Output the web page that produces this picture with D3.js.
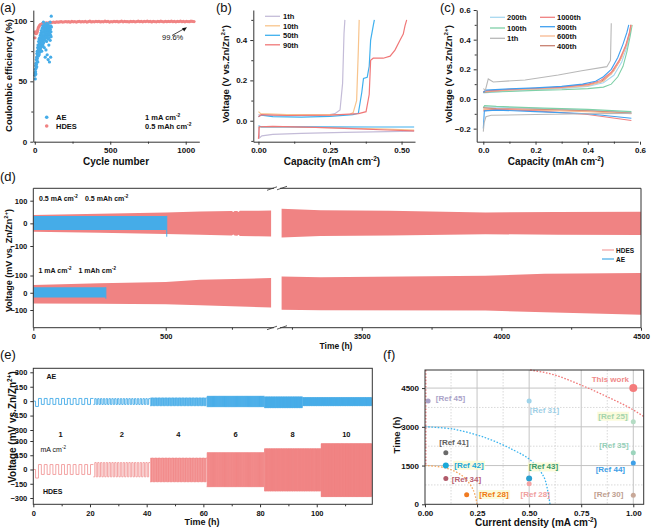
<!DOCTYPE html>
<html><head><meta charset="utf-8">
<script src="https://cdn.jsdelivr.net/npm/d3@7"></script>
<style>body{margin:0;background:#fff}</style>
</head><body><svg id="c" width="651" height="529"></svg>
<script>
// ---------------- DATA ----------------
// (a) Coulombic efficiency
const aeCycles = d3.range(1, 111);
const aeCE = [55,57,52,60,58,63,56,65,61,68, 64,70,62,73,67,75,69,72,78,66,
  80,74,77,71,83,76,79,85,72,81, 77,86,74,82,79,88,76,84,80,90,
  78,85,92,81,87,75,89,83,94,79, 88,84,96,80,91,86,99,82,93,87,
  85,95,78,90,88,97,84,92,70,89, 94,86,91,76,96,88,93,83,98,87,
  90,72,95,89,92,85,97,68,91,94, 88,93,80,96,86,92,66,90,95,89,
  99,84,93,88,70,96,91,87,104,95];
const hdesEarlyCycles = [1,3,5,8,11,14,17,20,24,28,33,38,44,50,57,65,75,85,95,105];
const hdesEarlyCE = [86,91,90,89.5,89.8,90.5,91.5,93,94.5,95.5,96.5,97,97.5,97.8,98,98.2,98.5,98.3,98.7,98.8];
const hdesPlateauStart = 115, hdesPlateauStep = 10;
const hdesPlateauCE = [98.9,99.1,98.8,99.3,99.0,99.2,99.4,99.1,99.3,99.5,
  99.2,99.4,99.0,99.6,99.3,99.5,99.1,99.4,99.7,99.2,
  99.5,99.3,99.6,99.1,99.4,99.8,99.2,99.5,99.3,99.6,
  99.4,99.7,99.2,99.5,99.3,99.8,99.4,99.6,99.1,99.5,
  99.3,99.7,99.4,99.6,99.2,99.5,99.8,99.3,99.6,99.4,
  99.5,99.2,99.7,99.4,99.6,99.3,99.5,99.8,99.4,99.6,
  99.3,99.7,99.5,99.9,99.4,99.6,99.2,99.7,99.5,99.3,
  99.6,99.4,99.8,99.5,99.3,99.7,99.4,99.6,99.5,99.8,
  99.4,99.6,99.3,99.7,99.5,99.8,99.4,99.6,99.3,99.7,
  99.5,99.4,99.8,99.6,99.5];

// (b) AE voltage profiles [capacity, V]
const bLabels = ['1th','10th','50th','90th'];
const bDis = [
  [[0,-0.03],[0.004,-0.085],[0.012,-0.075],[0.05,-0.068],[0.15,-0.063],[0.3,-0.058],[0.45,-0.054],[0.544,-0.052]],
  [[0,-0.035],[0.01,-0.03],[0.1,-0.03],[0.3,-0.036],[0.45,-0.042],[0.544,-0.047]],
  [[0,-0.025],[0.01,-0.03],[0.2,-0.03],[0.4,-0.031],[0.544,-0.031]],
  [[0,-0.09],[0.003,-0.03],[0.05,-0.028],[0.2,-0.033],[0.35,-0.04],[0.45,-0.046],[0.544,-0.05]]];
const bChg = [
  [[0,0.03],[0.01,0.026],[0.1,0.026],[0.2,0.027],[0.25,0.03],[0.267,0.035],[0.285,0.053],[0.294,0.185],[0.299,0.434],[0.302,0.5]],
  [[0,0.045],[0.008,0.035],[0.1,0.03],[0.25,0.03],[0.32,0.032],[0.331,0.04],[0.343,0.10],[0.349,0.35],[0.352,0.5]],
  [[0,0.02],[0.01,0.028],[0.05,0.02],[0.15,0.018],[0.25,0.022],[0.33,0.03],[0.349,0.037],[0.361,0.14],[0.367,0.21],[0.38,0.215],[0.387,0.27],[0.392,0.40],[0.401,0.47],[0.405,0.5]],
  [[0,0.02],[0.01,0.03],[0.1,0.026],[0.25,0.028],[0.35,0.035],[0.376,0.045],[0.387,0.13],[0.392,0.30],[0.401,0.31],[0.436,0.31],[0.46,0.32],[0.477,0.35],[0.495,0.40],[0.506,0.43],[0.512,0.47],[0.518,0.5]]];

// (c) HDES voltage profiles
const cLabels = ['200th','100th','1th','1000th','800th','600th','400th'];
const cChg = [
  [[0,0.04],[0.1,0.055],[0.2,0.062],[0.3,0.07],[0.4,0.085],[0.46,0.11],[0.5,0.16],[0.53,0.25],[0.55,0.35],[0.562,0.45],[0.567,0.5]],
  [[0,0.045],[0.1,0.05],[0.2,0.058],[0.3,0.062],[0.4,0.07],[0.46,0.08],[0.49,0.1],[0.515,0.15],[0.535,0.22],[0.55,0.32],[0.562,0.42],[0.57,0.5]],
  [[0,0.07],[0.008,0.06],[0.019,0.135],[0.038,0.115],[0.16,0.128],[0.287,0.162],[0.377,0.19],[0.473,0.218],[0.487,0.26],[0.49,0.51]],
  [[0,0.05],[0.01,0.055],[0.1,0.065],[0.2,0.072],[0.3,0.08],[0.4,0.1],[0.45,0.125],[0.49,0.18],[0.52,0.26],[0.545,0.36],[0.56,0.45],[0.565,0.5]],
  [[0,0.045],[0.01,0.06],[0.1,0.068],[0.2,0.075],[0.3,0.085],[0.38,0.1],[0.43,0.12],[0.46,0.15],[0.49,0.2],[0.515,0.28],[0.535,0.37],[0.55,0.45],[0.557,0.5]],
  [[0,0.05],[0.1,0.06],[0.2,0.068],[0.3,0.075],[0.4,0.09],[0.46,0.12],[0.5,0.19],[0.53,0.28],[0.55,0.38],[0.563,0.47],[0.567,0.5]],
  [[0,0.045],[0.1,0.062],[0.2,0.07],[0.3,0.078],[0.4,0.095],[0.45,0.115],[0.49,0.17],[0.52,0.25],[0.545,0.35],[0.56,0.44],[0.565,0.5]]];
const cDis = [
  [[0,-0.055],[0.05,-0.055],[0.2,-0.063],[0.4,-0.075],[0.567,-0.09]],
  [[0,-0.06],[0.005,-0.045],[0.05,-0.05],[0.2,-0.06],[0.4,-0.07],[0.567,-0.085]],
  [[0,-0.22],[0.003,-0.16],[0.01,-0.12],[0.03,-0.11],[0.2,-0.105],[0.4,-0.1],[0.567,-0.097]],
  [[0,-0.08],[0.05,-0.07],[0.2,-0.08],[0.4,-0.105],[0.567,-0.145]],
  [[0,-0.2],[0.004,-0.08],[0.05,-0.075],[0.2,-0.085],[0.4,-0.1],[0.567,-0.13]],
  [[0,-0.07],[0.05,-0.07],[0.2,-0.075],[0.4,-0.085],[0.567,-0.1]],
  [[0,-0.06],[0.05,-0.065],[0.2,-0.07],[0.4,-0.08],[0.567,-0.095]]];

// (d) long-term cycling envelopes (time h, mV)
const dTopHdesT  = [0,250,500,630,750,755,760,770,775,780,850,898];
const dTopHdesUp = [37,42,48,52,55,50,55,55,50,56,56,57];
const dTopHdesLo = [-37,-42,-47,-50,-54,-49,-54,-55,-50,-56,-57,-58];
const dTopHdesRT  = [3213,3352,3600,3943,4200,4500];
const dTopHdesRUp = [64,58,56,48,50,51];
const dTopHdesRLo = [-62,-56,-54,-48,-50,-51];
const dBotHdesT  = [0,250,500,630,898];
const dBotHdesUp = [45,55,63,75,85];
const dBotHdesLo = [-62,-64,-66,-72,-86];
const dBotHdesRT  = [3213,3352,3943,4154,4500];
const dBotHdesRUp = [94,90,98,110,114];
const dBotHdesRLo = [-98,-102,-103,-113,-127];
const dTopAeT = [0,504], dTopAeUp = [33,33], dTopAeLo = [-29,-29], dTopAeEnd = -59;
const dBotAeT = [0,274], dBotAeUp = [32,32], dBotAeLo = [-27,-27], dBotAeEnd = -35;

// (e) rate performance
const eCurrents = ['1','2','4','6','8','10'];
const eBounds = [0.8,21.2,41.2,61.2,81.5,101.5,119.4];
const eCycles = [10,20,40,60,80,90];
const eHdesUp = [52,73,121,178,219,272];
const eHdesLo = [-52,-77,-130,-182,-227,-286];
const eHdesDip = -90;
const eAeBounds = [0.8,21.2,41.2,61.2,81.5,95,119.4];
const eAeCycles = [10,20,40,60,54,98];
const eAeUp = [28,26,34,52,45,38];
const eAeLo = [-34,-34,-48,-59,-69,-48];
const eAeDip = -55;

// (f) comparison
const fNames = ['This work','Ref 45','Ref 31','Ref 25','Ref 35','Ref 44','Ref 30','Ref 41','Ref 42','Ref 34','Ref 28','Ref 43','Ref 28'];
const fX = [1.0,0.015,0.5,1.0,1.0,1.0,1.0,0.1,0.1,0.1,0.2,0.5,0.5];
const fY = [4500,4000,4000,3200,2000,1600,350,2000,1500,1000,370,1000,800];
const fRedCurve = [[0.505,5200],[0.617,5020],[0.745,4630],[0.873,4170],[1.0,3655],[1.05,3400]];
const fBlueCurve = [[0,3000],[0.136,2910],[0.296,2560],[0.425,2100],[0.505,1720],[0.57,1070],[0.59,500],[0.6,0]];
const fOrangeCurve = [[0,1500],[0.104,1400],[0.184,1070],[0.232,550],[0.25,0]];

// ---------------- STYLE / LAYOUT ----------------
const RED = '#f08383', BLUE = '#45ace8';
const bColors = ['#c4bcd8','#f8c48c','#3fb0ee','#f07878'];
const cColors = ['#a8d8f0','#7fd0a8','#b8b8b8','#f08080','#40a0f0','#f8b890','#c88070'];
const fPtColor = ['#f47c7c','#aaa2c8','#a0d4ea','#b4dcc4','#9cd4bc','#3ea0e8','#c8a898','#6a6a6a','#1aa8d8','#b05a6a','#f07a20','#2aa0d0','#f4a4a4'];
const fTxtColor = ['#f08a8a','#aaa2c8','#9fcfe6','#a4d4ac','#96d0b8','#3e9ee6','#c0a090','#606060','#1aa8d8','#b86070','#f07a10','#3a9a6a','#f0a0a0'];
const fR = [4,2.5,2.5,2.5,2.5,2.5,2.5,2.5,3,2.5,2.5,3,2.5];
const fLblOff = [[-41.6,-9.3],[7.7,-2.7],[0.7,9],[-35,-5.7],[-34,-7.4],[-37.6,6.3],[-39.3,-1.3],[-6.6,-10],[8.4,-0.6],[6,0.8],[12.7,-0.5],[-0.3,-11.8],[-8.6,10.6]];
const fHighlight = [false,false,false,true,false,false,false,false,true,false,true,true,false];

const F = 'Arial, "Liberation Sans", Helvetica, sans-serif';
const svg = d3.select('#c').attr('font-family', F);

function addText(x, y, parts, o = {}) {
  const size = o.size || 8;
  const t = svg.append('text').attr('x', x).attr('y', y).attr('font-size', size)
    .attr('font-weight', o.weight || 'bold').attr('fill', o.fill || '#111')
    .attr('text-anchor', o.anchor || 'start').attr('font-family', F);
  if (o.rotate) t.attr('transform', `rotate(-90,${x},${y})`);
  let shifted = false;
  (Array.isArray(parts) ? parts : [parts]).forEach(p => {
    if (typeof p === 'string') {
      const s = t.append('tspan').text(p);
      if (shifted) { s.attr('dy', size * 0.4); shifted = false; }
    } else {
      t.append('tspan').attr('font-size', size * 0.65).attr('dy', -size * 0.4).text(p.sup);
      shifted = true;
    }
  });
  return t;
}
function axis(gen, tx, ty, fs = 7.5, noDomain = false) {
  const g = svg.append('g').attr('transform', `translate(${tx},${ty})`).call(gen);
  g.select('.domain').attr('stroke', '#333').attr('stroke-width', 1);
  if (noDomain) g.select('.domain').remove();
  g.selectAll('.tick line').attr('stroke', '#333');
  g.selectAll('.tick text').attr('font-size', fs).attr('font-weight', 'bold').attr('fill', '#111').attr('font-family', F);
  return g;
}
function minor(gen, tx, ty) {
  const g = svg.append('g').attr('transform', `translate(${tx},${ty})`).call(gen.tickFormat('').tickSize(2).tickSizeOuter(0));
  g.select('.domain').remove();
  g.selectAll('.tick line').attr('stroke', '#333');
}
const fmtD = d3.format('d');

// ---------------- PANEL (a) ----------------
{
  const x = d3.scaleLinear().domain([-10, 1090]).range([33.3, 199.3]);
  const y = d3.scaleLinear().domain([0, 109]).range([141.7, 10.1]);
  const g = svg.append('g');
  const hdes = hdesEarlyCycles.map((c, i) => [c, hdesEarlyCE[i]])
    .concat(hdesPlateauCE.map((v, i) => [hdesPlateauStart + i * hdesPlateauStep, v]));
  g.selectAll('.h').data(hdes).join('circle').attr('cx', d => x(d[0])).attr('cy', d => y(d[1])).attr('r', 1.6).attr('fill', RED);
  g.selectAll('.a').data(aeCycles.map((c, i) => [c, aeCE[i]])).join('circle')
    .attr('cx', d => x(d[0])).attr('cy', d => y(d[1])).attr('r', 1.6).attr('fill', BLUE);
  axis(d3.axisBottom(x).tickValues([0, 500, 1000]).tickFormat(fmtD).tickSize(3).tickSizeOuter(0), 0, 141.7, 8);
  minor(d3.axisBottom(x).tickValues([250, 750]), 0, 141.7);
  axis(d3.axisLeft(y).tickValues([0, 50, 100]).tickSize(3).tickSizeOuter(0), 33.3, 0, 8);
  minor(d3.axisLeft(y).tickValues([25, 75]), 33.3, 0);
  svg.append('circle').attr('cx', 46.7).attr('cy', 117.3).attr('r', 1.8).attr('fill', BLUE);
  svg.append('circle').attr('cx', 46.7).attr('cy', 126).attr('r', 1.8).attr('fill', RED);
  addText(56, 120, 'AE', { size: 7.5 });
  addText(56, 129, 'HDES', { size: 7.5 });
  addText(145, 120, ['1 mA cm', { sup: '-2' }], { size: 7.5 });
  addText(145, 129, ['0.5 mAh cm', { sup: '-2' }], { size: 7.5 });
  addText(162, 40, '99.6%', { size: 7.5, weight: 'normal' });
  svg.append('line').attr('x1', 172).attr('y1', 35.5).attr('x2', 184).attr('y2', 28.8).attr('stroke', '#111').attr('stroke-width', 0.8);
  svg.append('path').attr('d', 'M187,27.2 L182,28.2 L184.2,31.5 Z').attr('fill', '#111');
  addText(12, 75.5, 'Coulombic efficiency (%)', { size: 9.5, anchor: 'middle', rotate: true });
  addText(116, 165, 'Cycle number', { size: 10, anchor: 'middle' });
  addText(0, 11.5, '(a)', { size: 13, weight: 'normal' });
}

// ---------------- PANEL (b) ----------------
{
  const x = d3.scaleLinear().domain([-0.018, 0.547]).range([253.3, 415]);
  const y = d3.scaleLinear().domain([-0.104, 0.549]).range([141.7, 10]);
  const line = d3.line().x(d => x(d[0])).y(d => y(d[1]));
  bDis.forEach((d, i) => svg.append('path').attr('d', line(d)).attr('fill', 'none').attr('stroke', bColors[i]).attr('stroke-width', 1.2));
  bChg.forEach((d, i) => svg.append('path').attr('d', line(d)).attr('fill', 'none').attr('stroke', bColors[i]).attr('stroke-width', 1.2));
  axis(d3.axisBottom(x).tickValues([0, 0.25, 0.5]).tickFormat(d3.format('.2f')).tickSize(3).tickSizeOuter(0), 0, 141.7, 8);
  minor(d3.axisBottom(x).tickValues([0.125, 0.375]), 0, 141.7);
  axis(d3.axisLeft(y).tickValues([0, 0.2, 0.4]).tickFormat(d3.format('.1f')).tickSize(3).tickSizeOuter(0), 253.3, 0, 8);
  minor(d3.axisLeft(y).tickValues([-0.1, 0.1, 0.3, 0.5]), 253.3, 0);
  const ly = [16.3, 25.8, 35.3, 44.8];
  bLabels.forEach((l, i) => {
    svg.append('line').attr('x1', 265).attr('x2', 280).attr('y1', ly[i]).attr('y2', ly[i]).attr('stroke', bColors[i]).attr('stroke-width', 1.3);
    addText(283, ly[i] + 2.8, l, { size: 7.5 });
  });
  addText(229, 74, ['Voltage (V vs.Zn/Zn', { sup: '2+' }, ')'], { size: 9.5, anchor: 'middle', rotate: true });
  addText(332, 165, ['Capacity (mAh cm', { sup: '-2' }, ')'], { size: 10, anchor: 'middle' });
  addText(216, 11.5, '(b)', { size: 13, weight: 'normal' });
}

// ---------------- PANEL (c) ----------------
{
  const x = d3.scaleLinear().domain([-0.0253, 0.5935]).range([476.7, 638.3]);
  const y = d3.scaleLinear().domain([-0.288, 0.6]).range([141.7, 10]);
  const line = d3.line().x(d => x(d[0])).y(d => y(d[1]));
  [0, 1, 6, 5, 3, 4, 2].forEach(i => {
    svg.append('path').attr('d', line(cDis[i])).attr('fill', 'none').attr('stroke', cColors[i]).attr('stroke-width', 1.1);
    svg.append('path').attr('d', line(cChg[i])).attr('fill', 'none').attr('stroke', cColors[i]).attr('stroke-width', 1.1);
  });
  axis(d3.axisBottom(x).tickValues([0, 0.2, 0.4, 0.6]).tickFormat(d3.format('.1f')).tickSize(3).tickSizeOuter(0), 0, 141.7, 8);
  minor(d3.axisBottom(x).tickValues([0.1, 0.3, 0.5]), 0, 141.7);
  axis(d3.axisLeft(y).tickValues([-0.2, 0, 0.2, 0.4, 0.6]).tickFormat(d3.format('.1f')).tickSize(3).tickSizeOuter(0), 476.7, 0, 8);
  minor(d3.axisLeft(y).tickValues([-0.1, 0.1, 0.3, 0.5]), 476.7, 0);
  const leg = [[490, 17.3], [490, 28], [490, 38.3], [540, 17.3], [540, 26.7], [540, 36], [540, 45.7]];
  cLabels.forEach((l, i) => {
    const [lx, ly] = leg[i];
    svg.append('line').attr('x1', lx).attr('x2', lx + 15).attr('y1', ly).attr('y2', ly).attr('stroke', cColors[i]).attr('stroke-width', 1.3);
    addText(lx + 17, ly + 2.8, l, { size: 7.5 });
  });
  addText(452, 74, ['Voltage (V vs.Zn/Zn', { sup: '2+' }, ')'], { size: 9.5, anchor: 'middle', rotate: true });
  addText(556, 165, ['Capacity (mAh cm', { sup: '-2' }, ')'], { size: 10, anchor: 'middle' });
  addText(440, 11.5, '(c)', { size: 13, weight: 'normal' });
}

// ---------------- PANEL (d) ----------------
{
  const xL = d3.scaleLinear().domain([0, 898]).range([33.3, 271.1]);
  const xR = d3.scaleLinear().domain([3213, 4500]).range([281.6, 641]);
  const yT = d3.scaleLinear().domain([-100, 100]).range([246, 200.7]);
  const yB = d3.scaleLinear().domain([-100, 100]).range([310, 275.5]);
  function band(T, U, L, xs, ys, col) {
    const data = T.map((t, i) => [t, U[i], L[i]]);
    svg.append('path').attr('d', d3.area().x(d => xs(d[0])).y0(d => ys(d[2])).y1(d => ys(d[1]))(data)).attr('fill', col);
  }
  band(dTopHdesT, dTopHdesUp, dTopHdesLo, xL, yT, RED);
  band(dTopHdesRT, dTopHdesRUp, dTopHdesRLo, xR, yT, RED);
  band(dBotHdesT, dBotHdesUp, dBotHdesLo, xL, yB, RED);
  band(dBotHdesRT, dBotHdesRUp, dBotHdesRLo, xR, yB, RED);
  band(dTopAeT, dTopAeUp, dTopAeLo, xL, yT, BLUE);
  band(dBotAeT, dBotAeUp, dBotAeLo, xL, yB, BLUE);
  svg.append('line').attr('x1', xL(dTopAeT[1])).attr('x2', xL(dTopAeT[1])).attr('y1', yT(dTopAeUp[1])).attr('y2', yT(dTopAeEnd)).attr('stroke', BLUE).attr('stroke-width', 1);
  svg.append('line').attr('x1', xL(dBotAeT[1])).attr('x2', xL(dBotAeT[1])).attr('y1', yB(dBotAeUp[1])).attr('y2', yB(dBotAeEnd)).attr('stroke', BLUE).attr('stroke-width', 1);
  const fr = svg.append('g').attr('stroke', '#333').attr('stroke-width', 1).attr('fill', 'none');
  [188.3, 327.7].forEach(yy => {
    fr.append('line').attr('x1', 33.3).attr('x2', 274).attr('y1', yy).attr('y2', yy);
    fr.append('line').attr('x1', 280).attr('x2', 641).attr('y1', yy).attr('y2', yy);
    fr.append('line').attr('x1', 267).attr('x2', 277).attr('y1', yy + 2).attr('y2', yy - 1.5).attr('stroke-width', 0.8);
    fr.append('line').attr('x1', 277).attr('x2', 287).attr('y1', yy + 1.5).attr('y2', yy - 2).attr('stroke-width', 0.8);
  });
  fr.append('line').attr('x1', 33.3).attr('x2', 33.3).attr('y1', 188.3).attr('y2', 327.7);
  fr.append('line').attr('x1', 641).attr('x2', 641).attr('y1', 188.3).attr('y2', 327.7);
  axis(d3.axisBottom(xL).tickValues([0, 500]).tickFormat(fmtD).tickSize(3).tickSizeOuter(0), 0, 327.7, 7.5, true);
  minor(d3.axisBottom(xL).tickValues([250, 750]), 0, 327.7);
  axis(d3.axisBottom(xR).tickValues([3500, 4000, 4500]).tickFormat(fmtD).tickSize(3).tickSizeOuter(0), 0, 327.7, 7.5, true);
  minor(d3.axisBottom(xR).tickValues([3250, 3750, 4250]), 0, 327.7);
  axis(d3.axisLeft(yT).tickValues([-100, 0, 100]).tickSize(3).tickSizeOuter(0), 33.3, 0, 7.5, true);
  axis(d3.axisLeft(yB).tickValues([-100, 0, 100]).tickSize(3).tickSizeOuter(0), 33.3, 0, 7.5, true);
  addText(39, 201, ['0.5 mA cm', { sup: '-2' }], { size: 7 });
  addText(85, 201, ['0.5 mAh cm', { sup: '-2' }], { size: 7 });
  addText(38.5, 273, ['1 mA cm', { sup: '-2' }], { size: 7 });
  addText(78.5, 273, ['1 mAh cm', { sup: '-2' }], { size: 7 });
  svg.append('line').attr('x1', 602).attr('x2', 614).attr('y1', 250).attr('y2', 250).attr('stroke', '#f4a0a0').attr('stroke-width', 1.2);
  svg.append('line').attr('x1', 602).attr('x2', 614).attr('y1', 259).attr('y2', 259).attr('stroke', BLUE).attr('stroke-width', 1.2);
  addText(616, 252.5, 'HDES', { size: 6.5 });
  addText(616, 261.5, 'AE', { size: 6.5 });
  addText(11.5, 260.5, ['Voltage (mV vs. Zn/Zn', { sup: '2+' }, ')'], { size: 9, anchor: 'middle', rotate: true });
  addText(336, 349, 'Time (h)', { size: 8.5, anchor: 'middle' });
  addText(0, 181, '(d)', { size: 13, weight: 'normal' });
}

// ---------------- PANEL (e) ----------------
{
  const x = d3.scaleLinear().domain([0, 119.6]).range([33.3, 372.3]);
  const yU = d3.scaleLinear().domain([-300, 300]).range([430, 372.3]);
  const yL = d3.scaleLinear().domain([-300, 300]).range([498, 441]);
  function square(bounds, cycles, up, lo, dip) {
    const segs = [];
    for (let i = 0; i < cycles.length; i++) {
      const pts = [];
      if (i === 0) pts.push([0, 0], [bounds[0], 0]);
      const t0 = bounds[i], t1 = bounds[i + 1], n = cycles[i], per = (t1 - t0) / n;
      for (let k = 0; k < n; k++) {
        const a = t0 + k * per, m = a + per / 2, b = a + per;
        const l = (i === 0 && k === 0) ? dip : lo[i];
        pts.push([a, l], [m, l], [m, up[i]], [b, up[i]]);
      }
      segs.push(pts);
    }
    return segs;
  }
  const lnU = d3.line().x(d => x(d[0])).y(d => yU(d[1]));
  const lnL = d3.line().x(d => x(d[0])).y(d => yL(d[1]));
  square(eAeBounds, eAeCycles, eAeUp, eAeLo, eAeDip).forEach(s =>
    svg.append('path').attr('d', lnU(s)).attr('fill', 'none').attr('stroke', BLUE).attr('stroke-width', 0.9));
  square(eBounds, eCycles, eHdesUp, eHdesLo, eHdesDip).forEach((s, i) =>
    svg.append('path').attr('d', lnL(s)).attr('fill', 'none').attr('stroke', i < 2 ? '#f29a9a' : RED).attr('stroke-width', 0.9));
  svg.append('rect').attr('x', 33.3).attr('y', 368.3).attr('width', 339).attr('height', 136).attr('fill', 'none').attr('stroke', '#333').attr('stroke-width', 1);
  axis(d3.axisBottom(x).tickValues([0, 20, 40, 60, 80, 100]).tickSize(3).tickSizeOuter(0), 0, 504.3, 7.5, true);
  minor(d3.axisBottom(x).tickValues([10, 30, 50, 70, 90, 110]), 0, 504.3);
  axis(d3.axisLeft(yU).tickValues([-300, -150, 0, 150, 300]).tickSize(3).tickSizeOuter(0), 33.3, 0, 7.5, true);
  axis(d3.axisLeft(yL).tickValues([-300, -150, 0, 150, 300]).tickSize(3).tickSizeOuter(0), 33.3, 0, 7.5, true);
  addText(46.5, 378.5, 'AE', { size: 7 });
  addText(43, 493.5, 'HDES', { size: 7 });
  addText(40.5, 452, ['mA cm', { sup: '-2' }], { size: 7, weight: 'normal' });
  eCurrents.forEach((c, i) => addText(x((eBounds[i] + eBounds[i + 1]) / 2) - (i === 0 ? 4 : 0), 437, c, { size: 7.5, anchor: 'middle' }));
  addText(15.5, 427, ['Voltage (mV vs.Zn/Zn', { sup: '2+' }, ')'], { size: 10, anchor: 'middle', rotate: true });
  addText(202, 525, 'Time (h)', { size: 9, anchor: 'middle' });
  addText(0, 359, '(e)', { size: 13, weight: 'normal' });
}

// ---------------- PANEL (f) ----------------
{
  const x = d3.scaleLinear().domain([0, 1.05]).range([425, 643.7]);
  const y = d3.scaleLinear().domain([0, 5200]).range([504.3, 370]);
  const grid = svg.append('g');
  [0.25, 0.5, 0.75, 1.0].forEach(v => grid.append('line').attr('x1', x(v)).attr('x2', x(v)).attr('y1', 370).attr('y2', 504.3).attr('stroke', '#c4c4c4').attr('stroke-width', 1));
  [0.125, 0.375, 0.625, 0.875].forEach(v => grid.append('line').attr('x1', x(v)).attr('x2', x(v)).attr('y1', 370).attr('y2', 504.3).attr('stroke', '#cfcfcf').attr('stroke-width', 0.8).attr('stroke-dasharray', '1.5,1.5'));
  [1500, 3000, 4500].forEach(v => grid.append('line').attr('x1', 425).attr('x2', 643.7).attr('y1', y(v)).attr('y2', y(v)).attr('stroke', '#c4c4c4').attr('stroke-width', 1));
  [750, 2250, 3750].forEach(v => grid.append('line').attr('x1', 425).attr('x2', 643.7).attr('y1', y(v)).attr('y2', y(v)).attr('stroke', '#cfcfcf').attr('stroke-width', 0.8).attr('stroke-dasharray', '1.5,1.5'));
  const ln = d3.line().x(d => x(d[0])).y(d => y(d[1])).curve(d3.curveMonotoneX);
  svg.append('path').attr('d', ln(fRedCurve)).attr('fill', 'none').attr('stroke', '#f07878').attr('stroke-width', 1.3).attr('stroke-dasharray', '1.6,1.6');
  svg.append('path').attr('d', d3.line().x(d => x(d[0])).y(d => y(d[1])).curve(d3.curveCatmullRom)(fBlueCurve)).attr('fill', 'none').attr('stroke', '#3ab4ee').attr('stroke-width', 1.3).attr('stroke-dasharray', '1.6,1.6');
  svg.append('path').attr('d', d3.line().x(d => x(d[0])).y(d => y(d[1])).curve(d3.curveCatmullRom)(fOrangeCurve)).attr('fill', 'none').attr('stroke', '#f4a860').attr('stroke-width', 1.3).attr('stroke-dasharray', '1.6,1.6');
  svg.append('line').attr('x1', x(0.004)).attr('x2', x(0.004)).attr('y1', y(5200)).attr('y2', y(1500)).attr('stroke', '#f07878').attr('stroke-width', 1.3).attr('stroke-dasharray', '1.6,1.6');
  fNames.forEach((n, i) => {
    const px = x(fX[i]), py = y(fY[i]);
    const lx = px + fLblOff[i][0], ly = py + fLblOff[i][1];
    const t = addText(lx, ly + 2.8, n === 'This work' ? n : '[' + n + ']', { size: 8, fill: fTxtColor[i] });
    if (fHighlight[i]) {
      const bb = t.node().getBBox();
      svg.insert('rect', () => t.node()).attr('x', bb.x - 1).attr('y', bb.y).attr('width', bb.width + 2).attr('height', bb.height).attr('fill', '#fafad2').attr('opacity', 0.8);
    }
    svg.append('circle').attr('cx', px).attr('cy', py).attr('r', fR[i]).attr('fill', fPtColor[i]);
  });
  svg.append('rect').attr('x', 425).attr('y', 370).attr('width', 218.7).attr('height', 134.3).attr('fill', 'none').attr('stroke', '#333').attr('stroke-width', 1);
  axis(d3.axisBottom(x).tickValues([0, 0.25, 0.5, 0.75, 1.0]).tickFormat(d3.format('.2f')).tickSize(3).tickSizeOuter(0), 0, 504.3, 8, true);
  axis(d3.axisLeft(y).tickValues([0, 1500, 3000, 4500]).tickFormat(fmtD).tickSize(3).tickSizeOuter(0), 425, 0, 8, true);
  addText(400, 435, 'Time (h)', { size: 9.5, anchor: 'middle', rotate: true });
  addText(536, 526, ['Current density (mA cm', { sup: '-2' }, ')'], { size: 10, anchor: 'middle' });
  addText(383, 359, '(f)', { size: 13, weight: 'normal' });
}
</script>
</body></html>
